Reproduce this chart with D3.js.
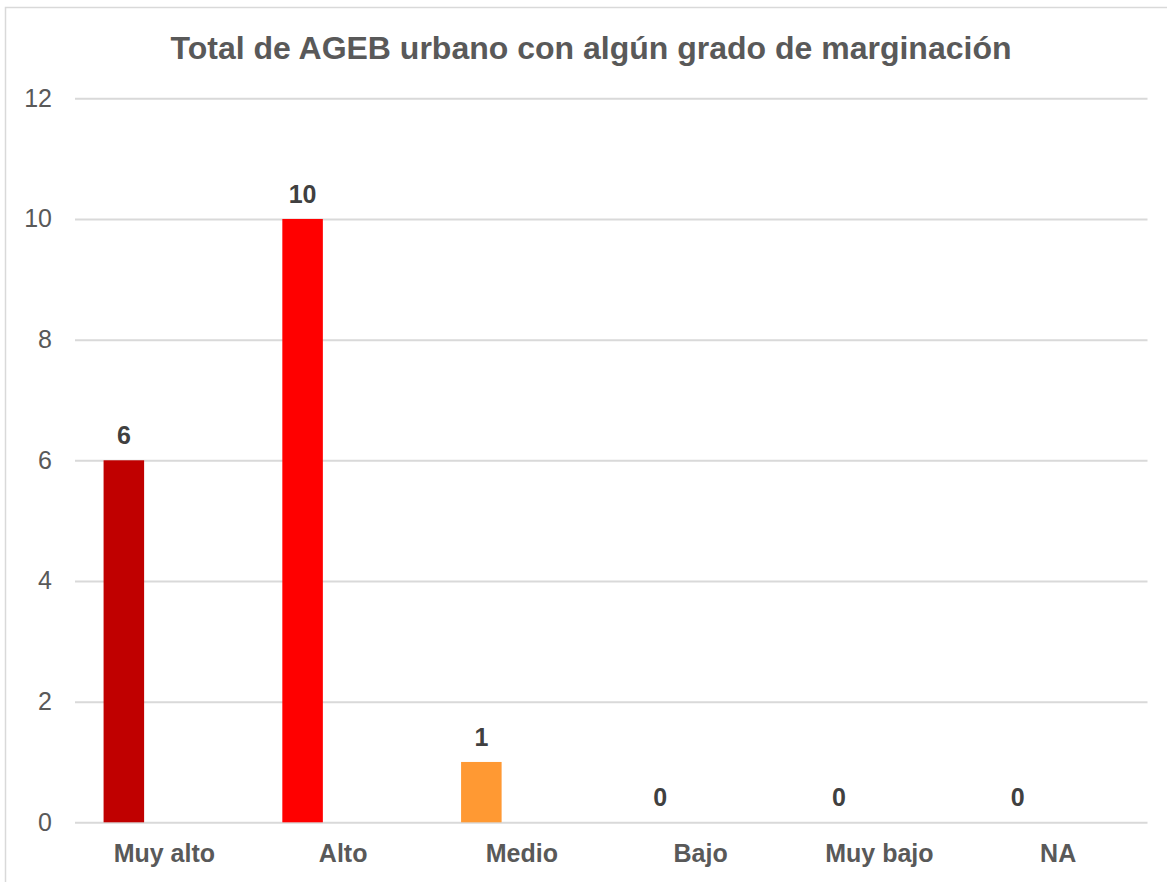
<!DOCTYPE html>
<html>
<head>
<meta charset="utf-8">
<script src="https://cdn.jsdelivr.net/npm/d3@7"></script>
<style>
  body { margin: 0; background: #fff; }
  text { font-family: Arial, "Liberation Sans", sans-serif; }
</style>
</head>
<body>
<div id="chart"></div>
<script>
// ===== data =====
var categories = ["Muy alto", "Alto", "Medio", "Bajo", "Muy bajo", "NA"];
var values = [6, 10, 1, 0, 0, 0];
var barColors = ["#C00000", "#FF0000", "#FF9933", "#FF9933", "#FF9933", "#FF9933"];
var yTicks = [0, 2, 4, 6, 8, 10, 12];
var title = "Total de AGEB urbano con algún grado de marginación";

var W = 1167, H = 882;
var plotLeft = 75, plotRight = 1147.5, plotTop = 98.3, plotBottom = 822.3;

var svg = d3.select("#chart")
    .append("svg")
    .attr("width", W)
    .attr("height", H)

// chart border
svg.append("rect")
    .attr("x", 5.5)
    .attr("y", 7.5)
    .attr("width", 1180)
    .attr("height", 900)
    .attr("fill", "none")
    .attr("stroke", "#D9D9D9")
    .attr("stroke-width", 1.5)

// title
svg.append("text")
    .text(title)
    .attr("x", 591)
    .attr("y", 59)
    .attr("text-anchor", "middle")
    .attr("font-size", "32px")
    .attr("font-weight", "bold")
    .attr("fill", "#595959")

var x = d3.scaleBand().domain(categories).range([plotLeft, plotRight]).padding(0)
// three series slots per category, only the first holds data
var slot = d3.scaleBand().domain([0, 1, 2]).range([0, x.bandwidth()]).paddingInner(0).paddingOuter(0.705)
var y = d3.scaleLinear().domain([0, 12]).range([plotBottom, plotTop])

// y axis + gridlines
var yAxis = svg.append("g")
    .attr("transform", "translate(" + plotLeft + ",0)")
    .call(d3.axisLeft(y).tickValues(yTicks).tickSize(-(plotRight - plotLeft)).tickPadding(23))
yAxis.select(".domain").remove()
yAxis.selectAll("line").attr("stroke", "#D9D9D9").attr("stroke-width", 2)
yAxis.selectAll("text")
    .attr("font-size", "25px")
    .attr("fill", "#595959")
    .attr("font-family", "Arial, 'Liberation Sans', sans-serif")

// bars
svg.selectAll(".bar")
    .data(values)
    .enter()
    .append("rect")
    .attr("x", function(d, i){ return x(categories[i]) + slot(0) })
    .attr("y", function(d){ return y(d) })
    .attr("width", slot.bandwidth())
    .attr("height", function(d){ return y(0) - y(d) })
    .attr("fill", function(d, i){ return barColors[i] })

// value labels
svg.selectAll(".lbl")
    .data(values)
    .enter()
    .append("text")
    .text(function(d){ return d })
    .attr("x", function(d, i){ return x(categories[i]) + slot(0) + slot.bandwidth() / 2 })
    .attr("y", function(d){ return y(d) - 16 })
    .attr("text-anchor", "middle")
    .attr("font-size", "25px")
    .attr("font-weight", "bold")
    .attr("fill", "#404040")

// x axis labels
var xAxis = svg.append("g")
    .attr("transform", "translate(0," + plotBottom + ")")
    .call(d3.axisBottom(x).tickSize(0).tickPadding(22))
xAxis.select(".domain").remove()
xAxis.selectAll("text")
    .attr("font-size", "25px")
    .attr("font-weight", "bold")
    .attr("fill", "#595959")
    .attr("font-family", "Arial, 'Liberation Sans', sans-serif")
</script>
</body>
</html>
